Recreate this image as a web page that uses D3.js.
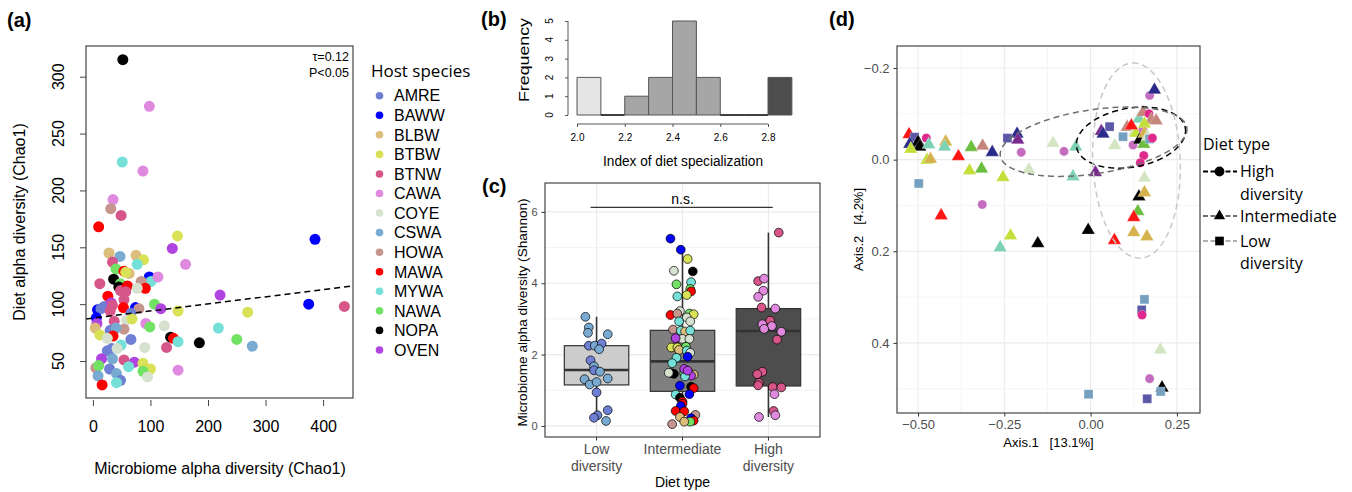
<!DOCTYPE html>
<html>
<head>
<meta charset="utf-8">
<script src="https://cdn.jsdelivr.net/npm/d3@7"></script>
<style>
body { margin: 0; background: #fff; }
svg { display: block; font-family: "Liberation Sans", Arial, sans-serif; }
</style>
</head>
<body>
<svg id="chart" width="1352" height="492"></svg>
<script>
// ---- data ----
var hostSpecies = ["AMRE","BAWW","BLBW","BTBW","BTNW","CAWA","COYE","CSWA","HOWA","MAWA","MYWA","NAWA","NOPA","OVEN"];
var hostColors  = ["#6e7fd4","#0000ff","#dcbd7c","#d9e157","#d6568a","#df8adf","#d7e1d0","#79abd2","#c6968e","#ff0000","#74e0d8","#72e264","#000000","#b044e0"];
var pcoaColors  = ["#5b58a8","#2a2a8a","#d6b24e","#c4df3a","#e0288c","#c46cc0","#d3e5c3","#76a0bf","#c4857a","#ff1414","#7ed2b4","#6cbf3e","#000000","#7a2a8c"];
var lowDietHosts  = ["AMRE","CSWA"];
var highDietHosts = ["BTNW","CAWA"];

// (a) microbiome chao1, diet chao1, host
var scatterRows = [
  [52,315,"NOPA"],[98,274,"CAWA"],[51,225,"MYWA"],[87,217,"CAWA"],[35,192,"CAWA"],[31,184,"HOWA"],[49,178,"BTNW"],[10,168,"MAWA"],[147,160,"BTBW"],[386,157,"BAWW"],[138,149,"OVEN"],
  [28,145,"BLBW"],[47,142,"CSWA"],[75,143,"BLBW"],[88,139,"BTBW"],[77,135,"MYWA"],[34,137,"BTNW"],[40,131,"NAWA"],[161,135,"CAWA"],[54,129,"MAWA"],[63,127,"BLBW"],[57,128,"BTBW"],
  [12,118,"BTNW"],[36,122,"NOPA"],[98,124,"BAWW"],[101,120,"MYWA"],[113,124,"CAWA"],[84,120,"HOWA"],[48,118,"NAWA"],[45,115,"NOPA"],[48,112,"BTNW"],[60,116,"MAWA"],[91,114,"MAWA"],[77,114,"COYE"],[57,111,"BTNW"],
  [26,107,"MAWA"],[54,104,"BTNW"],[221,108,"OVEN"],[107,100,"NAWA"],[375,100,"BAWW"],[437,98,"BTNW"],[53,97,"MAWA"],[74,97,"BAWW"],[80,96,"HOWA"],[118,96,"OVEN"],[148,94,"BTBW"],[269,93,"BTBW"],
  [20,98,"AMRE"],[32,101,"OVEN"],[34,99,"BTNW"],[8,95,"BAWW"],[14,96,"AMRE"],[66,92,"AMRE"],[30,94,"BTNW"],[6,88,"BAWW"],[58,86,"COYE"],[68,87,"BTBW"],[37,85,"BTNW"],[7,83,"OVEN"],[92,83,"CAWA"],[99,80,"NAWA"],[124,81,"COYE"],
  [30,77,"AMRE"],[54,78,"HOWA"],[40,79,"CSWA"],[4,79,"BLBW"],[12,73,"BTBW"],[35,72,"MAWA"],[25,70,"COYE"],[218,79,"MYWA"],[135,71,"NOPA"],[140,70,"MAWA"],[148,67,"MYWA"],[185,66,"NOPA"],[250,69,"NAWA"],[277,63,"CSWA"],[128,62,"BTNW"],[90,62,"COYE"],[66,69,"AMRE"],
  [25,59,"AMRE"],[33,61,"AMRE"],[49,64,"MYWA"],[42,61,"COYE"],[34,52,"CSWA"],[15,52,"OVEN"],[54,51,"BTNW"],[72,49,"OVEN"],[62,45,"MYWA"],[87,48,"BTBW"],[100,43,"BTBW"],[148,42,"CAWA"],[87,41,"NAWA"],[95,36,"COYE"],
  [5,44,"HOWA"],[10,46,"NAWA"],[29,43,"AMRE"],[41,39,"CSWA"],[9,37,"CSWA"],[48,33,"AMRE"],[41,31,"MYWA"],[16,29,"MAWA"]
];
var scatterXTicks = [0,100,200,300,400];
var scatterYTicks = [50,100,150,200,250,300];
var trendIntercept = 87.75, trendSlope = 0.0625;

// (b) histogram of diet specialization index
var histBreaks = [2.0,2.1,2.2,2.3,2.4,2.5,2.6,2.7,2.8,2.9];
var histCounts = [2,0,1,2,5,2,0,0,2];
var histXTicks = [2.0,2.2,2.4,2.6,2.8];
var histYTicks = [0,1,2,3,4,5];

// (c) shannon diversity by diet type: [value, jitter, host]
var dietTypes  = ["Low","Intermediate","High"];
var dietLabels = [["Low","diversity"],["Intermediate"],["High","diversity"]];
var boxLow = [0.20,0.03,0.25], boxQ1 = [1.15,0.97,1.12], boxMed = [1.57,1.81,2.66], boxQ3 = [2.25,2.68,3.29], boxHigh = [3.06,4.90,5.42];
var shannonYTicks = [0,2,4,6];
var shannonRows = [
  [3.06,-0.13,"CSWA"],[2.76,-0.09,"CSWA"],[2.61,-0.10,"CSWA"],[2.57,0.13,"CSWA"],[2.25,-0.09,"AMRE"],[2.25,-0.02,"CSWA"],[2.31,0.06,"AMRE"],[2.15,0.03,"CSWA"],[1.84,-0.07,"AMRE"],[1.67,-0.03,"CSWA"],[1.56,-0.03,"AMRE"],
  [1.52,0.04,"CSWA"],[1.31,-0.14,"CSWA"],[1.33,0.13,"CSWA"],[1.16,-0.08,"CSWA"],[1.23,0.0,"CSWA"],[0.94,0.0,"AMRE"],[0.44,0.13,"AMRE"],[0.30,0.01,"AMRE"],[0.23,-0.03,"AMRE"],[0.14,0.11,"CSWA"],

  [5.25,-0.14,"BAWW"],[4.94,-0.02,"BAWW"],[4.68,0.06,"BTBW"],[4.35,-0.10,"COYE"],[4.33,0.12,"NOPA"],[4.03,0.10,"MYWA"],[3.97,-0.07,"NAWA"],[3.84,0.09,"NAWA"],[3.77,0.10,"MAWA"],[3.67,0.05,"BTBW"],[3.63,-0.06,"MYWA"],
  [3.22,-0.03,"COYE"],[3.11,-0.14,"MAWA"],[3.15,-0.06,"HOWA"],[3.15,0.08,"NAWA"],[3.13,0.13,"BTBW"],[3.04,0.05,"COYE"],[2.93,-0.04,"MYWA"],[2.93,0.09,"COYE"],[2.70,-0.11,"HOWA"],[2.67,-0.02,"MYWA"],
  [2.65,0.03,"BLBW"],[2.67,0.09,"MYWA"],[2.44,0.0,"COYE"],[2.44,0.08,"COYE"],[2.46,-0.08,"OVEN"],[2.22,-0.07,"OVEN"],[2.20,-0.13,"BTBW"],[2.20,-0.06,"BTBW"],[2.22,0.04,"NAWA"],[2.13,-0.04,"BLBW"],[2.11,0.05,"MYWA"],
  [2.05,0.09,"COYE"],[1.94,0.06,"BAWW"],[1.91,-0.07,"MYWA"],[1.76,-0.12,"MYWA"],[1.48,-0.13,"NOPA"],[1.46,-0.10,"NOPA"],[1.49,-0.16,"COYE"],[1.48,0.02,"NAWA"],[1.44,0.07,"OVEN"],[1.44,0.13,"BLBW"],[1.41,0.10,"OVEN"],
  [1.39,0.03,"MYWA"],[1.60,0.02,"OVEN"],[1.55,0.06,"OVEN"],[1.10,0.10,"NOPA"],[1.06,0.13,"MAWA"],[1.13,-0.03,"BAWW"],[0.89,0.08,"BAWW"],[0.88,-0.08,"MYWA"],[0.79,-0.03,"NOPA"],[0.68,0.0,"MAWA"],[0.62,0.0,"MAWA"],
  [0.56,-0.02,"BAWW"],[0.42,-0.08,"MAWA"],[0.41,0.02,"MAWA"],[0.31,0.15,"HOWA"],[0.22,0.10,"BAWW"],[0.25,-0.03,"BLBW"],[0.15,0.13,"MAWA"],[0.12,0.09,"NAWA"],[0.12,0.02,"BLBW"],[0.05,-0.12,"HOWA"],

  [5.42,0.12,"BTNW"],[4.06,-0.12,"BTNW"],[4.13,-0.05,"CAWA"],[3.79,-0.06,"CAWA"],[3.62,-0.12,"CAWA"],[3.32,-0.08,"BTNW"],[3.29,0.08,"CAWA"],[2.95,0.02,"BTNW"],[2.85,-0.07,"CAWA"],[2.80,0.04,"CAWA"],[2.72,-0.05,"CAWA"],
  [2.64,0.15,"CAWA"],[2.42,0.10,"BTNW"],[1.52,-0.07,"BTNW"],[1.45,-0.13,"BTNW"],[1.21,-0.11,"BTNW"],[1.14,-0.12,"BTNW"],[1.09,0.05,"BTNW"],[1.08,0.15,"BTNW"],[0.89,0.07,"CAWA"],[0.42,0.06,"BTNW"],[0.30,0.08,"CAWA"],[0.25,-0.11,"CAWA"]
];

// (d) PCoA: [axis1, axis2, host]
var pcoaRows = [
  [-0.526,-0.055,"MAWA"],[-0.510,-0.049,"AMRE"],[-0.524,-0.034,"BAWW"],[-0.500,-0.038,"NOPA"],[-0.495,-0.028,"NOPA"],[-0.521,-0.023,"BTBW"],[-0.476,-0.047,"BTNW"],[-0.469,-0.033,"MYWA"],
  [-0.420,-0.039,"BLBW"],[-0.423,-0.028,"MYWA"],[-0.474,0.001,"BTBW"],[-0.464,-0.001,"BLBW"],[-0.498,0.052,"CSWA"],[-0.383,-0.007,"MAWA"],[-0.346,-0.027,"NAWA"],[-0.313,-0.030,"HOWA"],
  [-0.285,-0.016,"BAWW"],[-0.351,0.024,"BTBW"],[-0.316,0.020,"NAWA"],[-0.433,0.122,"MAWA"],[-0.314,0.098,"CAWA"],[-0.254,0.039,"BTBW"],[-0.241,-0.047,"AMRE"],[-0.213,-0.056,"BAWW"],
  [-0.211,-0.043,"OVEN"],[-0.201,-0.016,"CAWA"],[-0.179,0.022,"COYE"],[-0.109,-0.036,"COYE"],[-0.077,-0.018,"CAWA"],[-0.043,-0.028,"MYWA"],[-0.051,0.037,"MYWA"],[-0.232,0.166,"BTBW"],
  [-0.262,0.192,"MYWA"],[-0.153,0.183,"NOPA"],[-0.007,0.154,"NOPA"],[0.069,0.176,"MAWA"],[0.014,0.028,"OVEN"],[0.031,-0.062,"OVEN"],[0.036,-0.056,"BAWW"],[0.055,-0.072,"AMRE"],
  [0.070,-0.031,"COYE"],[0.094,-0.050,"CSWA"],[0.106,-0.071,"HOWA"],[0.123,-0.032,"CAWA"],[0.127,-0.060,"COYE"],[0.132,-0.058,"BTBW"],[0.142,-0.043,"NOPA"],[0.154,-0.034,"NAWA"],
  [0.152,-0.065,"CAWA"],[0.140,-0.089,"MYWA"],[0.152,-0.103,"HOWA"],[0.169,-0.100,"BTNW"],[0.171,-0.140,"CAWA"],[0.185,-0.152,"BAWW"],[0.176,-0.087,"HOWA"],[0.190,-0.085,"HOWA"],
  [0.118,-0.074,"MAWA"],[0.156,-0.078,"BTBW"],[0.156,-0.057,"BLBW"],[0.165,-0.050,"COYE"],[0.171,-0.045,"CSWA"],[0.179,-0.047,"BTNW"],[0.154,-0.009,"BTNW"],[0.144,0.007,"BTNW"],
  [0.156,0.040,"COYE"],[0.140,0.081,"NOPA"],[0.156,0.072,"BLBW"],[0.137,0.113,"NAWA"],[0.125,0.126,"MAWA"],[0.125,0.159,"BLBW"],[0.163,0.168,"BLBW"],[0.156,0.305,"CSWA"],
  [0.148,0.328,"AMRE"],[0.149,0.339,"BTNW"],[0.202,0.415,"COYE"],[0.171,0.478,"CAWA"],[0.207,0.498,"NOPA"],[0.203,0.506,"CSWA"],[0.164,0.522,"AMRE"],[-0.006,0.512,"CSWA"]
];
var pcoaXTicks = [-0.5,-0.25,0,0.25], pcoaXMinor = [-0.375,-0.125,0.125];
var pcoaYTicks = [-0.2,0,0.2,0.4], pcoaYMinor = [-0.1,0.1,0.3,0.5];
// stat_ellipse outlines per diet type: centre, major and minor half-axes
var ellipseDiet   = ["High","Intermediate","Low"];
var ellipseCentre = [[0.117,-0.048],[0.0087,-0.039],[0.133,0.002]];
var ellipseMajor  = [[0.1576,-0.0208],[0.2703,-0.031],[-0.0116,-0.213]];
var ellipseMinor  = [[0.0145,0.0634],[0.0142,0.069],[0.1266,-0.0039]];

// ---- helpers ----
var hostColor = d3.scaleOrdinal().domain(hostSpecies).range(hostColors),
    pcoaColor = d3.scaleOrdinal().domain(hostSpecies).range(pcoaColors);

function dietOf(host) {
    if ( lowDietHosts.indexOf(host) >= 0 ) return "Low";
    if ( highDietHosts.indexOf(host) >= 0 ) return "High";
    return "Intermediate";
}

var svg = d3.select("#chart"),
    legendFont = "'Open Sans', 'Noto Sans', sans-serif";

function panelLabel(text, x, y) {
    svg.append("text").attr("x", x).attr("y", y)
        .attr("font-size", 20).attr("font-weight", "bold").text(text);
}
panelLabel("(a)", 7, 27);
panelLabel("(b)", 481, 26);
panelLabel("(c)", 482, 193);
panelLabel("(d)", 829, 26);

// ---- (a) scatter ----
(function() {
    var xA = d3.scaleLinear().domain([-12, 452]).range([86, 353]),
        yA = d3.scaleLinear().domain([17.5, 327]).range([398, 46]),
        g = svg.append("g");

    g.append("clipPath").attr("id", "clipA").append("rect")
        .attr("x", 86).attr("y", 46).attr("width", 267).attr("height", 352);

    g.append("g").attr("clip-path", "url(#clipA)")
        .selectAll("circle").data(scatterRows).enter().append("circle")
        .attr("cx", d => xA(d[0]))
        .attr("cy", d => yA(d[1]))
        .attr("r", 5.5)
        .attr("fill", d => hostColor(d[2]));

    g.append("line").attr("clip-path", "url(#clipA)")
        .attr("x1", xA(-12)).attr("y1", yA(trendIntercept + trendSlope * -12))
        .attr("x2", xA(452)).attr("y2", yA(trendIntercept + trendSlope * 452))
        .attr("stroke", "#000").attr("stroke-width", 1.5).attr("stroke-dasharray", "6,4");

    g.append("rect").attr("x", 86).attr("y", 46).attr("width", 267).attr("height", 352)
        .attr("fill", "none").attr("stroke", "#444").attr("stroke-width", 1.2);

    var xAxis = g.append("g").attr("transform", "translate(0,400)")
        .call(d3.axisBottom(xA).tickValues(scatterXTicks).tickSize(6).tickPadding(15));
    xAxis.select(".domain").remove();
    xAxis.selectAll("line").attr("stroke", "#444");
    xAxis.selectAll("text").attr("font-size", 16).attr("fill", "#000").attr("font-family", null);

    var yAxis = g.append("g").attr("transform", "translate(86,0)")
        .call(d3.axisLeft(yA).tickValues(scatterYTicks).tickSize(6).tickFormat(""));
    yAxis.select(".domain").remove();
    yAxis.selectAll("line").attr("stroke", "#444");
    g.selectAll(".ylabA").data(scatterYTicks).enter().append("text")
        .attr("transform", d => "translate(58," + yA(d) + ") rotate(-90)")
        .attr("text-anchor", "middle").attr("dy", "0.36em")
        .attr("font-size", 16).text(d => d);

    g.append("text").attr("transform", "translate(19,222) rotate(-90)")
        .attr("text-anchor", "middle").attr("dy", "0.36em").attr("font-size", 16)
        .text("Diet alpha diversity (Chao1)");
    g.append("text").attr("x", 220).attr("y", 474).attr("text-anchor", "middle")
        .attr("font-size", 16).text("Microbiome alpha diversity (Chao1)");

    g.append("text").attr("x", 349).attr("y", 61).attr("text-anchor", "end")
        .attr("font-size", 12.5).text("\u03c4=0.12");
    g.append("text").attr("x", 349).attr("y", 77).attr("text-anchor", "end")
        .attr("font-size", 12.5).text("P<0.05");

    // host legend
    var lg = svg.append("g");
    lg.append("text").attr("x", 371).attr("y", 77).attr("font-family", legendFont)
        .attr("font-size", 17).text("Host species");
    var item = lg.selectAll(".host").data(hostSpecies).enter().append("g")
        .attr("transform", (d, i) => "translate(0," + (95.7 + i * 19.56) + ")");
    item.append("circle").attr("cx", 379.5).attr("r", 3.8).attr("fill", d => hostColor(d));
    item.append("text").attr("x", 394).attr("dy", "0.36em").attr("font-size", 16).text(d => d);
})();

// ---- (b) histogram ----
(function() {
    var xB = d3.scaleLinear().domain([2.0, 2.8]).range([577, 768]),
        yB = d3.scaleLinear().domain([0, 5]).range([115, 21]),
        g = svg.append("g"),
        bins = histCounts.map((c, i) => ({ x0: histBreaks[i], x1: histBreaks[i + 1], n: c })),
        fillOf = { Low: "#e5e5e5", Intermediate: "#a6a6a6", High: "#4d4d4d" };

    g.selectAll("path.bar").data(bins).enter().append("path")
        .attr("d", d => "M" + xB(d.x0) + "," + yB(0) + "V" + yB(d.n) + "H" + xB(d.x1) + "V" + yB(0) + "Z")
        .attr("fill", d => fillOf[d.x0 < 2.1 ? "Low" : d.x0 >= 2.79 ? "High" : "Intermediate"])
        .attr("stroke", d => d.n ? "#555" : "#000")
        .attr("stroke-width", d => d.n ? 1 : 1.6);

    var xAxis = g.append("g").attr("transform", "translate(0,124)")
        .call(d3.axisBottom(xB).tickValues(histXTicks).tickSize(3).tickPadding(7).tickFormat(d3.format(".1f")));
    xAxis.select(".domain").attr("stroke", "#555").attr("d", "M" + xB(2.0) + ",0H" + xB(2.8));
    xAxis.selectAll("line").attr("stroke", "#555");
    xAxis.selectAll("text").attr("font-size", 10).attr("font-family", null);

    var yAxis = g.append("g").attr("transform", "translate(568,0)")
        .call(d3.axisLeft(yB).tickValues(histYTicks).tickSize(3).tickFormat(""));
    yAxis.select(".domain").attr("stroke", "#555").attr("d", "M0," + yB(0) + "V" + yB(5));
    yAxis.selectAll("line").attr("stroke", "#555");
    g.selectAll(".ylabB").data(histYTicks).enter().append("text")
        .attr("transform", d => "translate(549," + yB(d) + ") rotate(-90)")
        .attr("text-anchor", "middle").attr("dy", "0.36em").attr("font-size", 10).text(d => d);

    g.append("text").attr("transform", "translate(524,60) rotate(-90)")
        .attr("text-anchor", "middle").attr("dy", "0.36em").attr("font-size", 14)
        .attr("textLength", 84).attr("lengthAdjust", "spacingAndGlyphs").text("Frequency");
    g.append("text").attr("x", 683).attr("y", 166).attr("text-anchor", "middle")
        .attr("font-size", 15.5).attr("textLength", 160).attr("lengthAdjust", "spacingAndGlyphs")
        .text("Index of diet specialization");
})();

// ---- (c) boxplot ----
(function() {
    var xC = d3.scaleLinear().domain([0.4, 3.6]).range([545, 820]),
        yC = d3.scaleLinear().domain([-0.31, 6.81]).range([437, 183]),
        g = svg.append("g"),
        boxFill = ["#cccccc", "#7f7f7f", "#4d4d4d"],
        idx = d => dietTypes.indexOf(d) + 1;

    g.append("rect").attr("x", 545).attr("y", 183).attr("width", 275).attr("height", 254).attr("fill", "#fff");
    g.selectAll(".minorC").data([1, 3, 5]).enter().append("line")
        .attr("x1", 545).attr("x2", 820).attr("y1", d => yC(d)).attr("y2", d => yC(d))
        .attr("stroke", "#ebebeb").attr("stroke-width", 0.6);
    g.selectAll(".majorC").data(shannonYTicks).enter().append("line")
        .attr("x1", 545).attr("x2", 820).attr("y1", d => yC(d)).attr("y2", d => yC(d))
        .attr("stroke", "#ebebeb").attr("stroke-width", 1.2);
    g.selectAll(".vmajorC").data(dietTypes).enter().append("line")
        .attr("x1", d => xC(idx(d))).attr("x2", d => xC(idx(d))).attr("y1", 183).attr("y2", 437)
        .attr("stroke", "#ebebeb").attr("stroke-width", 1.2);

    var boxes = g.selectAll(".box").data(dietTypes).enter().append("g");
    boxes.append("line")
        .attr("x1", d => xC(idx(d))).attr("x2", d => xC(idx(d)))
        .attr("y1", (d, i) => yC(boxLow[i])).attr("y2", (d, i) => yC(boxHigh[i]))
        .attr("stroke", "#333").attr("stroke-width", 1.6);
    boxes.append("rect")
        .attr("x", d => xC(idx(d) - 0.375)).attr("width", xC(0.75) - xC(0))
        .attr("y", (d, i) => yC(boxQ3[i])).attr("height", (d, i) => yC(boxQ1[i]) - yC(boxQ3[i]))
        .attr("fill", (d, i) => boxFill[i]).attr("stroke", "#333").attr("stroke-width", 1.2);
    boxes.append("line")
        .attr("x1", d => xC(idx(d) - 0.375)).attr("x2", d => xC(idx(d) + 0.375))
        .attr("y1", (d, i) => yC(boxMed[i])).attr("y2", (d, i) => yC(boxMed[i]))
        .attr("stroke", "#333").attr("stroke-width", 2.6);

    g.selectAll("circle.pt").data(shannonRows).enter().append("circle")
        .attr("cx", d => xC(idx(dietOf(d[2])) + d[1]))
        .attr("cy", d => yC(d[0]))
        .attr("r", 4.4)
        .attr("fill", d => hostColor(d[2]))
        .attr("stroke", "#000").attr("stroke-width", 0.7);

    g.append("line").attr("x1", xC(0.93)).attr("x2", xC(3.05)).attr("y1", 207.3).attr("y2", 207.3)
        .attr("stroke", "#000").attr("stroke-width", 1);
    g.append("text").attr("x", xC(2)).attr("y", 204).attr("text-anchor", "middle")
        .attr("font-size", 14).text("n.s.");

    g.append("rect").attr("x", 545).attr("y", 183).attr("width", 275).attr("height", 254)
        .attr("fill", "none").attr("stroke", "#333").attr("stroke-width", 1.1);

    var yAxis = g.append("g").attr("transform", "translate(545,0)")
        .call(d3.axisLeft(yC).tickValues(shannonYTicks).tickSize(3.5).tickPadding(4));
    yAxis.select(".domain").remove();
    yAxis.selectAll("line").attr("stroke", "#333");
    yAxis.selectAll("text").attr("font-size", 11).attr("fill", "#4d4d4d").attr("font-family", null);

    var xTicks = g.selectAll(".xtC").data(dietTypes).enter().append("g");
    xTicks.append("line").attr("x1", d => xC(idx(d))).attr("x2", d => xC(idx(d)))
        .attr("y1", 437).attr("y2", 440.5).attr("stroke", "#333");
    xTicks.append("text").attr("x", d => xC(idx(d))).attr("y", 454)
        .attr("text-anchor", "middle").attr("font-size", 14).attr("fill", "#4d4d4d")
        .selectAll("tspan").data((d, i) => dietLabels[i]).enter().append("tspan")
        .attr("x", function() { return this.parentNode.getAttribute("x"); })
        .attr("dy", (d, i) => i ? 16.5 : 0).text(d => d);

    g.append("text").attr("x", xC(2)).attr("y", 486.5).attr("text-anchor", "middle")
        .attr("font-size", 14).text("Diet type");
    g.append("text").attr("transform", "translate(522,312.5) rotate(-90)")
        .attr("text-anchor", "middle").attr("dy", "0.36em").attr("font-size", 13.6)
        .text("Microbiome alpha diversity (Shannon)");
})();

// ---- (d) PCoA ----
(function() {
    var xD = d3.scaleLinear().domain([-0.561, 0.317]).range([897, 1200]),
        yD = d3.scaleLinear().domain([-0.248, 0.553]).range([46, 413]),
        g = svg.append("g"),
        shapeOf = { High: d3.symbolCircle, Intermediate: d3.symbolTriangle, Low: d3.symbolSquare },
        sizeOf = { High: 66, Intermediate: 78, Low: 80 },
        lineOf = { High: "#000", Intermediate: "#6e6e6e", Low: "#c8c8c8" };

    g.append("clipPath").attr("id", "clipD").append("rect")
        .attr("x", 897).attr("y", 46).attr("width", 303).attr("height", 367);

    g.selectAll(".vmin").data(pcoaXMinor).enter().append("line")
        .attr("x1", d => xD(d)).attr("x2", d => xD(d)).attr("y1", 46).attr("y2", 413)
        .attr("stroke", "#f0f0f0").attr("stroke-width", 0.6);
    g.selectAll(".hmin").data(pcoaYMinor).enter().append("line")
        .attr("y1", d => yD(d)).attr("y2", d => yD(d)).attr("x1", 897).attr("x2", 1200)
        .attr("stroke", "#f0f0f0").attr("stroke-width", 0.6);
    g.selectAll(".vmaj").data(pcoaXTicks).enter().append("line")
        .attr("x1", d => xD(d)).attr("x2", d => xD(d)).attr("y1", 46).attr("y2", 413)
        .attr("stroke", "#ebebeb").attr("stroke-width", 1.1);
    g.selectAll(".hmaj").data(pcoaYTicks).enter().append("line")
        .attr("y1", d => yD(d)).attr("y2", d => yD(d)).attr("x1", 897).attr("x2", 1200)
        .attr("stroke", "#ebebeb").attr("stroke-width", 1.1);

    g.append("g").attr("clip-path", "url(#clipD)")
        .selectAll("path.pt").data(pcoaRows).enter().append("path")
        .attr("transform", d => "translate(" + xD(d[0]) + "," + yD(d[1]) + ")")
        .attr("d", d => d3.symbol().type(shapeOf[dietOf(d[2])]).size(sizeOf[dietOf(d[2])])())
        .attr("fill", d => pcoaColor(d[2]))
        .attr("stroke", "#fff").attr("stroke-width", 0.4).attr("stroke-opacity", 0.6);

    var angles = d3.range(0, 2 * Math.PI, Math.PI / 60),
        ring = d3.line().curve(d3.curveLinearClosed);
    g.append("g").attr("clip-path", "url(#clipD)")
        .selectAll("path.ell").data(ellipseDiet).enter().append("path")
        .attr("d", (d, i) => ring(angles.map(t => [
            xD(ellipseCentre[i][0] + Math.cos(t) * ellipseMajor[i][0] + Math.sin(t) * ellipseMinor[i][0]),
            yD(ellipseCentre[i][1] + Math.cos(t) * ellipseMajor[i][1] + Math.sin(t) * ellipseMinor[i][1])
        ])))
        .attr("fill", "none").attr("stroke", d => lineOf[d])
        .attr("stroke-width", 1.5).attr("stroke-dasharray", "6,4");

    g.append("rect").attr("x", 897).attr("y", 46).attr("width", 303).attr("height", 367)
        .attr("fill", "none").attr("stroke", "#333").attr("stroke-width", 1.1);

    var xAxis = g.append("g").attr("transform", "translate(0,413)")
        .call(d3.axisBottom(xD).tickValues(pcoaXTicks).tickSize(3.5).tickPadding(3).tickFormat(d3.format(".2f")));
    xAxis.select(".domain").remove();
    xAxis.selectAll("line").attr("stroke", "#333");
    xAxis.selectAll("text").attr("font-size", 13).attr("fill", "#4d4d4d").attr("font-family", null);

    var yAxis = g.append("g").attr("transform", "translate(897,0)")
        .call(d3.axisLeft(yD).tickValues(pcoaYTicks).tickSize(3.5).tickPadding(4).tickFormat(d3.format(".1f")));
    yAxis.select(".domain").remove();
    yAxis.selectAll("line").attr("stroke", "#333");
    yAxis.selectAll("text").attr("font-size", 13).attr("fill", "#4d4d4d").attr("font-family", null);

    g.append("text").attr("x", 1048.5).attr("y", 446.5).attr("text-anchor", "middle")
        .attr("font-size", 13).style("white-space", "pre").text("Axis.1   [13.1%]");
    g.append("text").attr("transform", "translate(858,229.5) rotate(-90)")
        .attr("text-anchor", "middle").attr("dy", "0.36em").attr("font-size", 13)
        .style("white-space", "pre").text("Axis.2   [4.2%]");

    // diet type legend
    var lg = svg.append("g").attr("font-family", legendFont);
    lg.append("text").attr("x", 1203).attr("y", 150).attr("font-size", 16).text("Diet type");
    var keyY = [171.5, 216, 241],
        keyLines = [["High", "diversity"], ["Intermediate"], ["Low", "diversity"]];
    var key = lg.selectAll(".key").data(ellipseDiet).enter().append("g")
        .attr("transform", (d, i) => "translate(0," + keyY[i] + ")");
    key.append("line").attr("x1", 1203).attr("x2", 1237)
        .attr("stroke", d => lineOf[d] === "#c8c8c8" ? "#b0b0b0" : lineOf[d])
        .attr("stroke-width", 2).attr("stroke-dasharray", "5,2.5");
    key.append("path").attr("transform", "translate(1219.5,0)")
        .attr("d", d => d3.symbol().type(shapeOf[d]).size(d === "Intermediate" ? 55 : 75)())
        .attr("fill", "#000");
    key.append("text").attr("x", 1240).attr("y", 5.5).attr("font-size", 16)
        .selectAll("tspan").data((d, i) => keyLines[i]).enter().append("tspan")
        .attr("x", 1240).attr("dy", (d, i) => i ? 22.7 : 0).text(d => d);
})();
</script>
</body>
</html>
